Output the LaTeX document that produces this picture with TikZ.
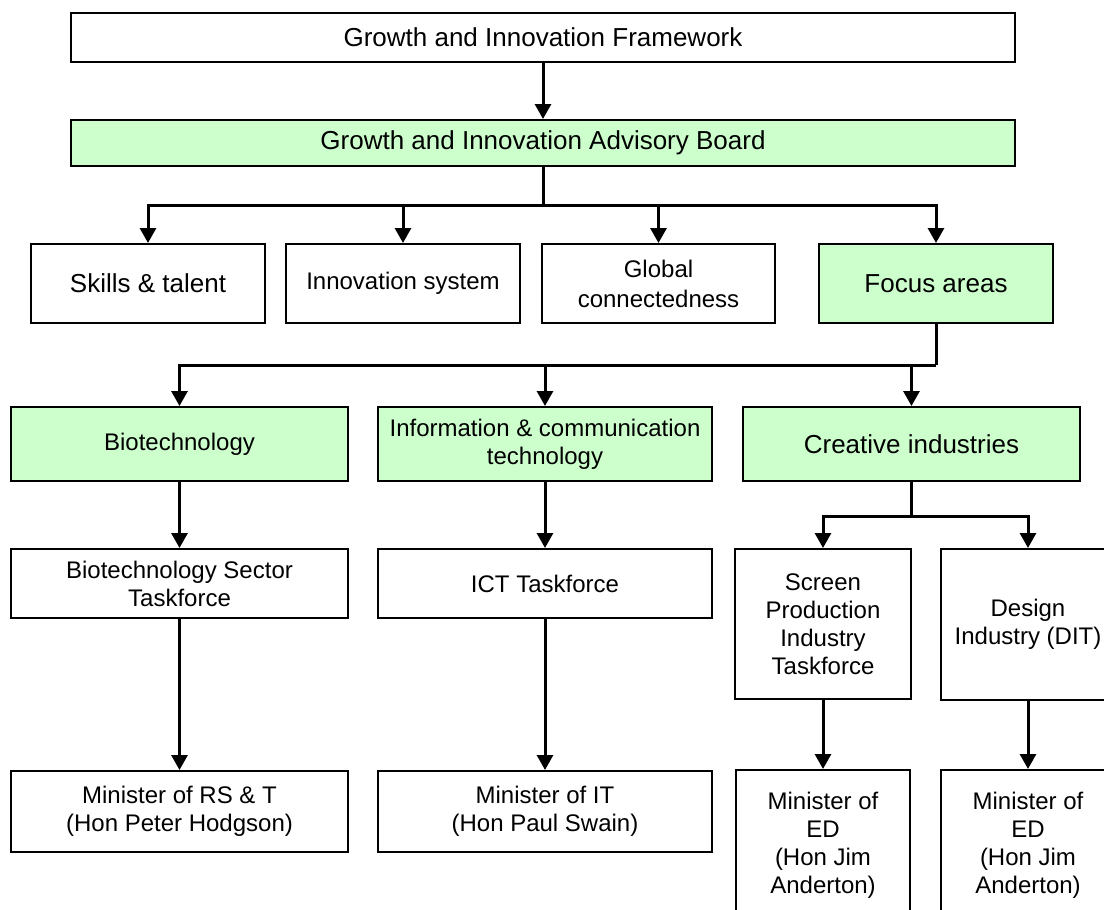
\documentclass[tikz,border=0pt]{standalone}
\usepackage{fontspec}
\setmainfont{Liberation Sans}
\usetikzlibrary{arrows.meta}
\definecolor{boxgreen}{HTML}{CCFFCC}
\begin{document}
\begin{tikzpicture}[x=1pt,y=-1pt,
  bx/.style={draw=black, line width=2pt, fill=white, rectangle, inner sep=2pt, align=center,
    font=\fontsize{24pt}{28pt}\selectfont},
  big/.style={font=\fontsize{26pt}{30pt}\selectfont},
  gr/.style={fill=boxgreen},
  ln/.style={line width=3pt},
  arr/.style={line width=3pt, -{Triangle[width=16pt,length=15pt]}}]
\useasboundingbox (0,0) rectangle (1104,910);
\clip (0,0) rectangle (1104,910);
\fill[white] (0,0) rectangle (1104,910);

% nodes
\node[bx,big,minimum width=944pt,minimum height=49pt] (fw) at (543,37.5) {Growth and Innovation Framework};
\node[bx,big,gr,minimum width=944pt,minimum height=46pt] (board) at (543,143) {Growth and Innovation Advisory Board};

\node[bx,big,minimum width=234pt,minimum height=79pt] (skills) at (148,283.5) {Skills \& talent};
\node[bx,minimum width=234pt,minimum height=79pt] (innov) at (403,283.5) {Innovation system};
\node[bx,minimum width=233pt,minimum height=79pt,font=\fontsize{24pt}{30pt}\selectfont] (global) at (658.5,283.5) {Global\\connectedness};
\node[bx,big,gr,minimum width=234pt,minimum height=79pt] (focus) at (936,283.5) {Focus areas};

\node[bx,gr,minimum width=337pt,minimum height=74pt] (bio) at (179.5,444) {Biotechnology};
\node[bx,gr,minimum width=334pt,minimum height=74pt] (ict) at (545,444) {Information \& communication\\technology};
\node[bx,big,gr,minimum width=337pt,minimum height=74pt] (creative) at (911.5,444) {Creative industries};

\node[bx,minimum width=337pt,minimum height=69pt] (biotf) at (179.5,583.5) {Biotechnology Sector\\Taskforce};
\node[bx,minimum width=334pt,minimum height=69pt] (icttf) at (545,583.5) {ICT Taskforce};
\node[bx,minimum width=176pt,minimum height=150pt] (screen) at (823,624) {Screen\\Production\\Industry\\Taskforce};
\node[bx,minimum width=174pt,minimum height=151pt] (design) at (1028,624.5) {Design\\Industry (DIT)};

\node[bx,minimum width=337pt,minimum height=81pt] (minrst) at (179.5,811.5) {Minister of RS \& T\\(Hon Peter Hodgson)};
\node[bx,minimum width=334pt,minimum height=81pt] (minit) at (545,811.5) {Minister of IT\\(Hon Paul Swain)};
\node[bx,minimum width=174pt,minimum height=150pt] (mined1) at (823,845) {Minister of\\ED\\(Hon Jim\\Anderton)};
\node[bx,minimum width=174pt,minimum height=150pt] (mined2) at (1028,845) {Minister of\\ED\\(Hon Jim\\Anderton)};

% connectors
\draw[arr] (fw) -- (board);

\coordinate (bus1) at (543,205);
\draw[ln] (board.south) -- (bus1);
\draw[arr] (bus1) -| (skills.north);
\draw[arr] (bus1) -| (innov.north);
\draw[arr] (bus1) -| (global.north);
\draw[arr] (bus1) -| (focus.north);

\coordinate (bus2) at (936,365);
\draw[ln] (focus.south) -- (bus2);
\draw[arr] (bus2) -| (bio.north);
\draw[arr] (bus2) -| (ict.north);
\draw[arr] (bus2) -| (creative.north);

\draw[arr] (bio) -- (biotf);
\draw[arr] (biotf) -- (minrst);
\draw[arr] (ict) -- (icttf);
\draw[arr] (icttf) -- (minit);

\coordinate (bus3) at (911.5,516);
\draw[ln] (creative.south) -- (bus3);
\draw[arr] (bus3) -| (screen.north);
\draw[arr] (bus3) -| (design.north);
\draw[arr] (screen) -- (mined1);
\draw[arr] (design) -- (mined2);
\end{tikzpicture}
\end{document}
